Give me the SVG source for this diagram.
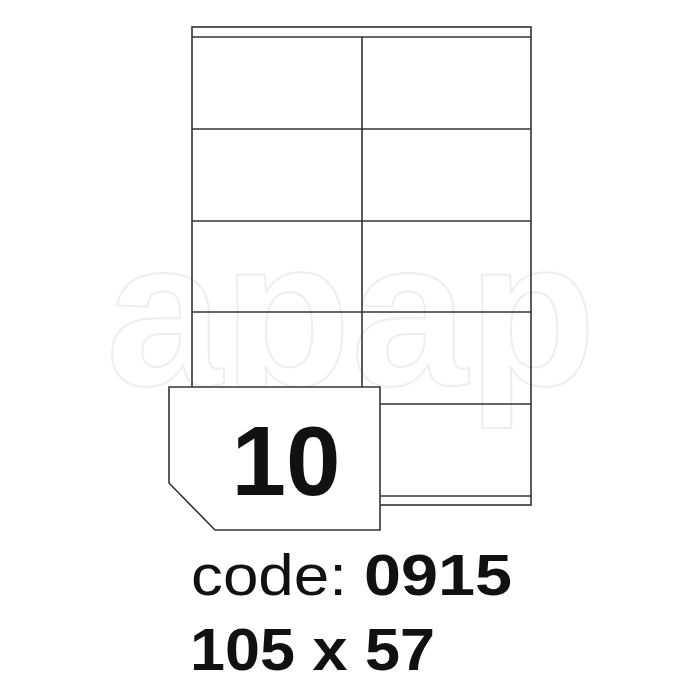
<svg xmlns="http://www.w3.org/2000/svg" width="700" height="700" viewBox="0 0 700 700">
  <style>
    .ln { fill: none; stroke: #333; stroke-width: 1.6; }
    .wm { fill: none; stroke: #eeeeee; stroke-width: 2; font-family: "Liberation Sans", Arial, sans-serif; font-size: 208px; font-weight: bold; }
    .big { font-family: "Liberation Sans", Arial, Helvetica, sans-serif; fill: #111; }
  </style>
  <rect width="700" height="700" fill="#fff"/>
  <text class="wm" x="106" y="385" textLength="490" lengthAdjust="spacingAndGlyphs">apap</text>
  <g id="sheet">
    <rect class="ln" x="192" y="27" width="339" height="478"/>
    <line class="ln" x1="192" y1="37" x2="531" y2="37"/>
    <line class="ln" x1="192" y1="129" x2="531" y2="129"/>
    <line class="ln" x1="192" y1="221" x2="531" y2="221"/>
    <line class="ln" x1="192" y1="312" x2="531" y2="312"/>
    <line class="ln" x1="192" y1="404" x2="531" y2="404"/>
    <line class="ln" x1="192" y1="496" x2="531" y2="496"/>
    <line class="ln" x1="362" y1="37" x2="362" y2="496"/>
  </g>
  <g id="badge">
    <polygon points="169,387 380,387 380,530 215,530 169,483" fill="#fff" stroke="#333" stroke-width="1.6"/>
    <text class="big" x="286" y="495" text-anchor="middle" font-size="98" font-weight="bold">10</text>
  </g>
  <g id="caption">
    <text class="big" y="595" font-size="58"><tspan x="191" textLength="156" lengthAdjust="spacingAndGlyphs">code:</tspan><tspan x="364" textLength="148" lengthAdjust="spacingAndGlyphs" font-weight="bold">0915</tspan></text>
    <text class="big" x="190" y="670" font-size="60" font-weight="bold" textLength="245" lengthAdjust="spacingAndGlyphs">105 x 57</text>
  </g>
</svg>
